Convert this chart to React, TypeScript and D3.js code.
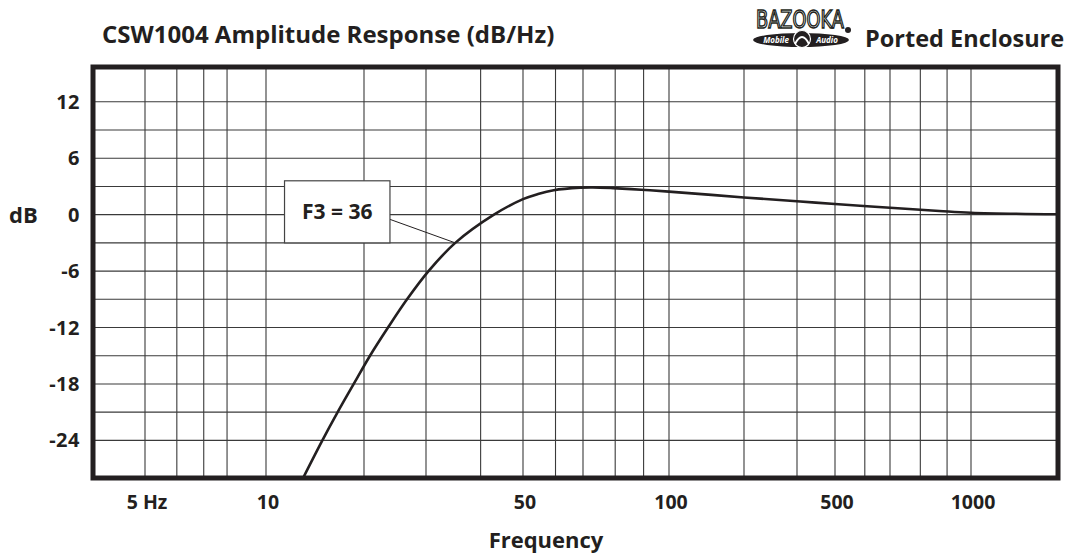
import { useEffect, useRef } from "react";
import * as d3 from "d3";

// amplitude response
const freqHz = [13.0, 14.9, 16.6, 18.6, 20.8, 23.4, 26.5, 30.4, 35.0, 42.9, 50, 54.4, 59.4, 68.9, 72.9, 79.3, 89.1, 100, 200, 300, 500, 700, 870, 1000, 1460];
const levelDb = [-28, -24, -21, -18, -15, -12, -9, -6, -3, 0, 1.65, 2.2, 2.6, 2.87, 2.9, 2.82, 2.65, 2.45, 1.83, 1.42, 1.14, 0.73, 0.39, 0.2, 0.04];

const xTickHz = [5, 10, 50, 100, 500, 1000];
const xTickLabels = ["5 Hz", "10", "50", "100", "500", "1000"];
const yTickDb = [12, 6, 0, -6, -12, -18, -24];

const xGridHz = [5, 6, 7, 8, 10, 20, 30, 40, 50, 60, 70, 80, 90, 100, 200, 300, 500, 600, 700, 800, 900, 1000];
const yGridDb = [12, 9, 6, 3, 0, -3, -6, -9, -12, -15, -18, -21, -24];

const f3Hz = 36;
const f3Label = `F3 = ${f3Hz}`;

const W = 1067;
const H = 556;
const plot = { left: 93, right: 1058, top: 67, bottom: 478 };

const App = () => {
  const ref = useRef<SVGSVGElement>(null);

  useEffect(() => {
    const svg = d3.select(ref.current);
    svg.selectAll("*").remove();

    const ink = "#231f20";
    const font = "'Open Sans', 'DejaVu Sans', sans-serif";

    // the printed grid is not a clean log grid, so the scale is piecewise
    const x = d3
      .scaleLog()
      .domain([5, 10, 20, 30, 50, 70, 100, 200, 300, 500, 700, 1000])
      .range([145, 266, 364, 426, 523, 583, 669, 744, 797, 835, 890, 971]);
    const y = d3.scaleLinear().domain([-28, 15.7]).range([plot.bottom, plot.top]);

    svg
      .append("defs")
      .append("clipPath")
      .attr("id", "plot-clip")
      .append("rect")
      .attr("x", plot.left)
      .attr("y", plot.top)
      .attr("width", plot.right - plot.left)
      .attr("height", plot.bottom - plot.top);

    svg.append("rect").attr("width", W).attr("height", H).attr("fill", "white");

    // grid
    const grid = svg.append("g").attr("stroke", "#3a3a3a").attr("stroke-width", 1.1);
    grid
      .selectAll("line.v")
      .data(xGridHz)
      .join("line")
      .attr("class", "v")
      .attr("x1", (d) => x(d))
      .attr("x2", (d) => x(d))
      .attr("y1", plot.top)
      .attr("y2", plot.bottom);
    grid
      .selectAll("line.h")
      .data(yGridDb)
      .join("line")
      .attr("class", "h")
      .attr("x1", plot.left)
      .attr("x2", plot.right)
      .attr("y1", (d) => y(d))
      .attr("y2", (d) => y(d));

    // F3 callout
    const box = { x0: x(11.4), x1: x(23.7), y0: y(3.6), y1: y(-3) };
    const f3Point = freqHz[levelDb.indexOf(-3)];
    svg
      .append("line")
      .attr("x1", box.x1)
      .attr("y1", y(-0.5))
      .attr("x2", x(f3Point))
      .attr("y2", y(-3))
      .attr("stroke", ink)
      .attr("stroke-width", 1);
    svg
      .append("rect")
      .attr("x", box.x0)
      .attr("y", box.y0)
      .attr("width", box.x1 - box.x0)
      .attr("height", box.y1 - box.y0)
      .attr("fill", "white")
      .attr("stroke", "#444")
      .attr("stroke-width", 1.2);
    svg
      .append("text")
      .attr("x", (box.x0 + box.x1) / 2)
      .attr("y", (box.y0 + box.y1) / 2 + 7)
      .attr("text-anchor", "middle")
      .attr("font-family", font)
      .attr("font-weight", 700)
      .attr("font-size", 21)
      .attr("fill", ink)
      .text(f3Label);

    // response curve
    const points = freqHz.map((f, i) => [x(f), y(levelDb[i])] as [number, number]);
    svg
      .append("path")
      .attr("clip-path", "url(#plot-clip)")
      .attr("d", d3.line().curve(d3.curveCatmullRom.alpha(0.5))(points))
      .attr("fill", "none")
      .attr("stroke", ink)
      .attr("stroke-width", 2.6);

    // frame
    svg
      .append("rect")
      .attr("x", plot.left)
      .attr("y", plot.top)
      .attr("width", plot.right - plot.left)
      .attr("height", plot.bottom - plot.top)
      .attr("fill", "none")
      .attr("stroke", ink)
      .attr("stroke-width", 5);

    const labels = svg
      .append("g")
      .attr("font-family", font)
      .attr("font-weight", 700)
      .attr("fill", ink);

    labels
      .selectAll("text.y")
      .data(yTickDb)
      .join("text")
      .attr("class", "y")
      .attr("x", 80)
      .attr("y", (d) => y(d) + 7)
      .attr("text-anchor", "end")
      .attr("font-size", 20)
      .attr("letter-spacing", 0.5)
      .text((d) => d);

    labels
      .append("text")
      .attr("x", 9)
      .attr("y", y(0) + 8)
      .attr("font-size", 22)
      .text("dB");

    labels
      .selectAll("text.x")
      .data(xTickHz)
      .join("text")
      .attr("class", "x")
      .attr("x", (d) => x(d) + 2)
      .attr("y", 509)
      .attr("text-anchor", "middle")
      .attr("font-size", 19.5)
      .text((d, i) => xTickLabels[i]);

    labels
      .append("text")
      .attr("x", 546)
      .attr("y", 548)
      .attr("text-anchor", "middle")
      .attr("font-size", 22)
      .text("Frequency");

    labels
      .append("text")
      .attr("x", 102)
      .attr("y", 43)
      .attr("font-size", 24)
      .text("CSW1004 Amplitude Response (dB/Hz)");

    labels
      .append("text")
      .attr("x", 865)
      .attr("y", 47)
      .attr("font-size", 23.5)
      .text("Ported Enclosure");

    // brand mark
    const logo = svg.append("g");
    logo
      .append("text")
      .attr("x", 756)
      .attr("y", 28)
      .attr("font-family", "'DejaVu Sans Condensed', 'DejaVu Sans', sans-serif")
      .attr("font-size", 24)
      .attr("textLength", 88)
      .attr("lengthAdjust", "spacingAndGlyphs")
      .attr("fill", "white")
      .attr("stroke", ink)
      .attr("stroke-width", 1.4)
      .text("BAZOOKA");
    logo.append("circle").attr("cx", 848).attr("cy", 30).attr("r", 3).attr("fill", ink);
    logo
      .append("ellipse")
      .attr("cx", 801)
      .attr("cy", 40)
      .attr("rx", 48)
      .attr("ry", 7)
      .attr("fill", ink);
    logo
      .append("circle")
      .attr("cx", 802)
      .attr("cy", 39)
      .attr("r", 8.5)
      .attr("fill", ink)
      .attr("stroke", "white")
      .attr("stroke-width", 1.2);
    logo
      .append("path")
      .attr("d", "M795,44 Q802,30 809,44")
      .attr("fill", "none")
      .attr("stroke", "white")
      .attr("stroke-width", 2);
    logo
      .selectAll("text.pill")
      .data([
        ["Mobile", 776],
        ["Audio", 827],
      ])
      .join("text")
      .attr("class", "pill")
      .attr("x", (d) => d[1] as number)
      .attr("y", 43)
      .attr("text-anchor", "middle")
      .attr("font-family", font)
      .attr("font-style", "italic")
      .attr("font-weight", 700)
      .attr("font-size", 8)
      .attr("fill", "white")
      .text((d) => d[0] as string);
  }, []);

  return (
    <svg
      ref={ref}
      width={W}
      height={H}
      style={{ position: "absolute", left: 0, top: 0, display: "block" }}
    />
  );
};

export default App;
